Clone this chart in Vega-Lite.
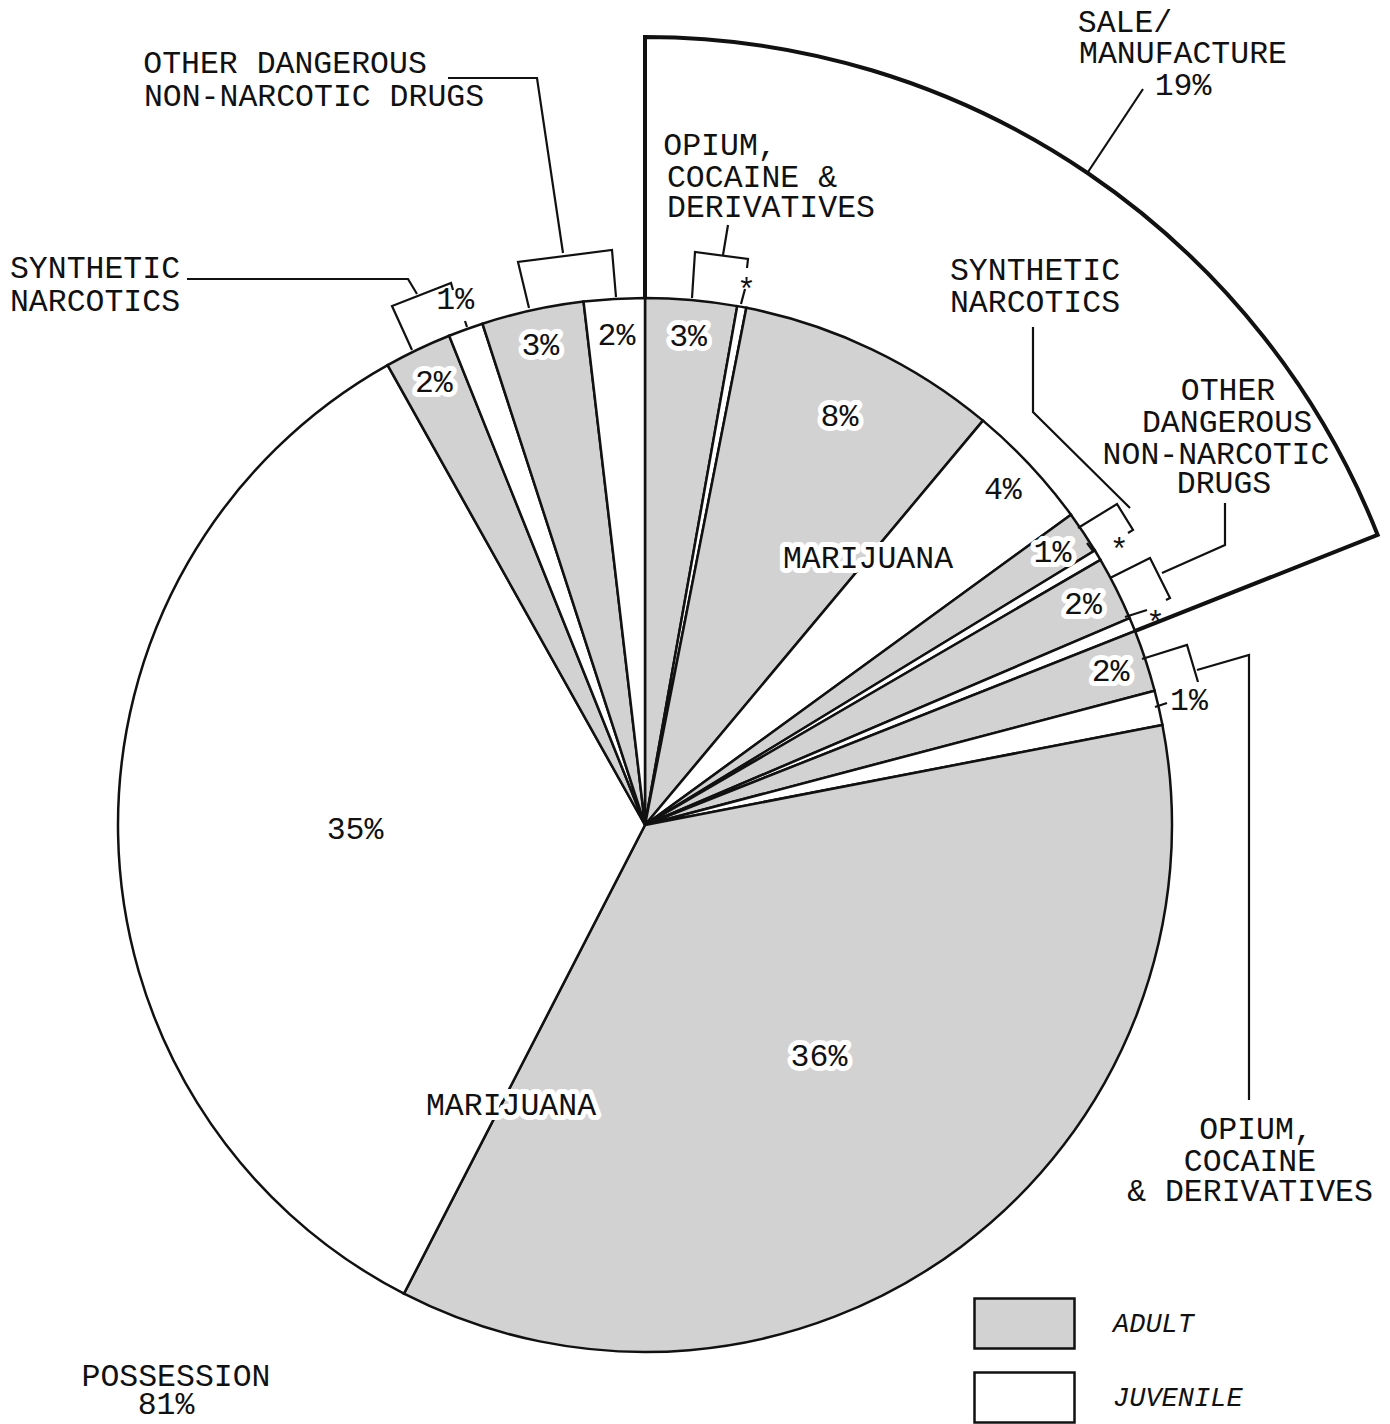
{
  "$schema": "https://vega.github.io/schema/vega-lite/v6.json",
  "width": 1390,
  "height": 1424,
  "autosize": {"type": "none"},
  "padding": 0,
  "background": "white",
  "config": {
    "view": {"stroke": null},
    "text": {"font": "Liberation Mono", "fontSize": 31.5, "color": "#111"}
  },
  "datasets": {
    "groups": [
      {"idx": 1, "group": "SALE/MANUFACTURE", "value": 19},
      {"idx": 2, "group": "POSSESSION", "value": 81}
    ],
    "slices": [
      {"idx": 1, "group": "SALE/MANUFACTURE", "drug": "Opium, cocaine & derivatives", "type": "Adult", "value": 2.8, "label": "3%"},
      {"idx": 2, "group": "SALE/MANUFACTURE", "drug": "Opium, cocaine & derivatives", "type": "Juvenile", "value": 0.28, "label": "*"},
      {"idx": 3, "group": "SALE/MANUFACTURE", "drug": "Marijuana", "type": "Adult", "value": 8.0, "label": "8%"},
      {"idx": 4, "group": "SALE/MANUFACTURE", "drug": "Marijuana", "type": "Juvenile", "value": 3.9, "label": "4%"},
      {"idx": 5, "group": "SALE/MANUFACTURE", "drug": "Synthetic narcotics", "type": "Adult", "value": 1.3, "label": "1%"},
      {"idx": 6, "group": "SALE/MANUFACTURE", "drug": "Synthetic narcotics", "type": "Juvenile", "value": 0.33, "label": "*"},
      {"idx": 7, "group": "SALE/MANUFACTURE", "drug": "Other dangerous non-narcotic drugs", "type": "Adult", "value": 1.97, "label": "2%"},
      {"idx": 8, "group": "SALE/MANUFACTURE", "drug": "Other dangerous non-narcotic drugs", "type": "Juvenile", "value": 0.42, "label": "*"},
      {"idx": 9, "group": "POSSESSION", "drug": "Opium, cocaine & derivatives", "type": "Adult", "value": 1.9, "label": "2%"},
      {"idx": 10, "group": "POSSESSION", "drug": "Opium, cocaine & derivatives", "type": "Juvenile", "value": 1.06, "label": "1%"},
      {"idx": 11, "group": "POSSESSION", "drug": "Marijuana", "type": "Adult", "value": 35.6, "label": "36%"},
      {"idx": 12, "group": "POSSESSION", "drug": "Marijuana", "type": "Juvenile", "value": 34.32, "label": "35%"},
      {"idx": 13, "group": "POSSESSION", "drug": "Synthetic narcotics", "type": "Adult", "value": 2.06, "label": "2%"},
      {"idx": 14, "group": "POSSESSION", "drug": "Synthetic narcotics", "type": "Juvenile", "value": 1.07, "label": "1%"},
      {"idx": 15, "group": "POSSESSION", "drug": "Other dangerous non-narcotic drugs", "type": "Adult", "value": 3.13, "label": "3%"},
      {"idx": 16, "group": "POSSESSION", "drug": "Other dangerous non-narcotic drugs", "type": "Juvenile", "value": 1.86, "label": "2%"}
    ],
    "leaders": [
      {"id": "L1", "ord": 1, "x": -197, "y": 747}, {"id": "L1", "ord": 2, "x": -108, "y": 747}, {"id": "L1", "ord": 3, "x": -82, "y": 572},
      {"id": "B1", "ord": 1, "x": -116, "y": 517}, {"id": "B1", "ord": 2, "x": -127, "y": 563}, {"id": "B1", "ord": 3, "x": -33, "y": 575}, {"id": "B1", "ord": 4, "x": -29, "y": 528},
      {"id": "L2", "ord": 1, "x": -458, "y": 546}, {"id": "L2", "ord": 2, "x": -237, "y": 546}, {"id": "L2", "ord": 3, "x": -228, "y": 531},
      {"id": "B2", "ord": 1, "x": -233, "y": 475}, {"id": "B2", "ord": 2, "x": -253, "y": 519}, {"id": "B2", "ord": 3, "x": -194, "y": 542}, {"id": "B2", "ord": 4, "x": -192, "y": 535},
      {"id": "T2", "ord": 1, "x": -180, "y": 504}, {"id": "T2", "ord": 2, "x": -178, "y": 498},
      {"id": "L3", "ord": 1, "x": 83, "y": 600}, {"id": "L3", "ord": 2, "x": 78, "y": 570},
      {"id": "B3", "ord": 1, "x": 47, "y": 527}, {"id": "B3", "ord": 2, "x": 50, "y": 573}, {"id": "B3", "ord": 3, "x": 103, "y": 566}, {"id": "B3", "ord": 4, "x": 102, "y": 557},
      {"id": "T3", "ord": 1, "x": 100, "y": 536}, {"id": "T3", "ord": 2, "x": 96, "y": 521},
      {"id": "L4", "ord": 1, "x": 498, "y": 736}, {"id": "L4", "ord": 2, "x": 443, "y": 653},
      {"id": "L5", "ord": 1, "x": 388, "y": 498}, {"id": "L5", "ord": 2, "x": 388, "y": 413}, {"id": "L5", "ord": 3, "x": 485, "y": 317},
      {"id": "B5", "ord": 1, "x": 433, "y": 297}, {"id": "B5", "ord": 2, "x": 472, "y": 321}, {"id": "B5", "ord": 3, "x": 488, "y": 295}, {"id": "B5", "ord": 4, "x": 483, "y": 292},
      {"id": "T5", "ord": 1, "x": 442, "y": 282}, {"id": "T5", "ord": 2, "x": 448, "y": 274},
      {"id": "L6", "ord": 1, "x": 580, "y": 322}, {"id": "L6", "ord": 2, "x": 580, "y": 280}, {"id": "L6", "ord": 3, "x": 517, "y": 252},
      {"id": "B6", "ord": 1, "x": 465, "y": 247}, {"id": "B6", "ord": 2, "x": 505, "y": 267}, {"id": "B6", "ord": 3, "x": 525, "y": 227}, {"id": "B6", "ord": 4, "x": 521, "y": 225},
      {"id": "T6", "ord": 1, "x": 480, "y": 208}, {"id": "T6", "ord": 2, "x": 502, "y": 215},
      {"id": "B7", "ord": 1, "x": 497, "y": 166}, {"id": "B7", "ord": 2, "x": 542, "y": 180}, {"id": "B7", "ord": 3, "x": 553, "y": 143},
      {"id": "L7", "ord": 1, "x": 552, "y": 155}, {"id": "L7", "ord": 2, "x": 604, "y": 170}, {"id": "L7", "ord": 3, "x": 604, "y": -275},
      {"id": "T7", "ord": 1, "x": 510, "y": 118}, {"id": "T7", "ord": 2, "x": 522, "y": 122}
    ],
    "callouts": [
      {"text": "OTHER DANGEROUS", "x": -360, "y": 752},
      {"text": "NON-NARCOTIC DRUGS", "x": -331, "y": 719},
      {"text": "SYNTHETIC", "x": -550, "y": 547},
      {"text": "NARCOTICS", "x": -550, "y": 514},
      {"text": "OPIUM,", "x": 75, "y": 670},
      {"text": "COCAINE &", "x": 107, "y": 638},
      {"text": "DERIVATIVES", "x": 126, "y": 608},
      {"text": "SALE/", "x": 480, "y": 793},
      {"text": "MANUFACTURE", "x": 538, "y": 762},
      {"text": "19%", "x": 538, "y": 730},
      {"text": "SYNTHETIC", "x": 390, "y": 545},
      {"text": "NARCOTICS", "x": 390, "y": 513},
      {"text": "OTHER", "x": 583, "y": 425},
      {"text": "DANGEROUS", "x": 582, "y": 393},
      {"text": "NON-NARCOTIC", "x": 571, "y": 361},
      {"text": "DRUGS", "x": 579, "y": 332},
      {"text": "OPIUM,", "x": 611, "y": -314},
      {"text": "COCAINE", "x": 605, "y": -346},
      {"text": "& DERIVATIVES", "x": 605, "y": -376},
      {"text": "POSSESSION", "x": -469, "y": -561},
      {"text": "81%", "x": -479, "y": -589}
    ],
    "inner": [
      {"text": "MARIJUANA", "x": 223, "y": 257},
      {"text": "MARIJUANA", "x": -134, "y": -290}
    ]
  },
  "layer": [
    {
      "data": {"name": "groups"},
      "mark": {"type": "arc", "outerRadius": 788, "fill": "white", "stroke": "#111", "strokeWidth": 4},
      "encoding": {
        "theta": {"field": "value", "type": "quantitative", "stack": true, "scale": {"domain": [0, 100]}},
        "order": {"field": "idx"},
        "x": {"datum": 0, "type": "quantitative", "scale": {"domain": [-645, 745], "nice": false, "zero": false}, "axis": null},
        "y": {"datum": 0, "type": "quantitative", "scale": {"domain": [-599, 825], "nice": false, "zero": false}, "axis": null},
        "opacity": {"condition": {"test": "datum.group == 'POSSESSION'", "value": 0}, "value": 1}
      }
    },
    {
      "data": {"name": "slices"},
      "mark": {"type": "arc", "outerRadius": 527, "stroke": "#111", "strokeWidth": 2.5},
      "encoding": {
        "theta": {"field": "value", "type": "quantitative", "stack": true, "scale": {"domain": [0, 100]}},
        "order": {"field": "idx"},
        "x": {"datum": 0, "type": "quantitative", "scale": {"domain": [-645, 745], "nice": false, "zero": false}, "axis": null},
        "y": {"datum": 0, "type": "quantitative", "scale": {"domain": [-599, 825], "nice": false, "zero": false}, "axis": null},
        "fill": {
          "field": "type", "type": "nominal",
          "scale": {"domain": ["Adult", "Juvenile"], "range": ["#d2d2d2", "#ffffff"]},
          "legend": {
            "orient": "none", "legendX": 998, "legendY": 1297, "title": null, "padding": 0,
            "symbolType": "M-2,-1H2V1H-2Z", "symbolSize": 2500,
            "symbolStrokeColor": "#111", "symbolStrokeWidth": 2.5,
            "labelFont": "Liberation Mono", "labelFontStyle": "italic", "labelFontSize": 27, "labelColor": "#111",
            "labelOffset": 62, "rowPadding": 13, "labelExpr": "upper(datum.label)"
          }
        }
      }
    },
    {
      "data": {"name": "slices"},
      "encoding": {
        "theta": {"field": "value", "type": "quantitative", "stack": true, "scale": {"domain": [0, 100]}},
        "order": {"field": "idx"},
        "x": {"datum": 0, "type": "quantitative", "scale": {"domain": [-645, 745], "nice": false, "zero": false}, "axis": null},
        "y": {"datum": 0, "type": "quantitative", "scale": {"domain": [-599, 825], "nice": false, "zero": false}, "axis": null}
      },
      "layer": [
        {"mark": {"type": "text", "radius": 490, "align": "center", "baseline": "middle", "fill": "white", "stroke": "white", "strokeWidth": 10, "strokeJoin": "round"},
         "encoding": {"text": {"condition": {"test": "datum.value < 5 && !(datum.type == 'Juvenile' && datum.value < 1.5)", "field": "label"}, "value": ""}}},
        {"mark": {"type": "text", "radius": 490, "align": "center", "baseline": "middle"},
         "encoding": {"text": {"condition": {"test": "datum.value < 5 && !(datum.type == 'Juvenile' && datum.value < 1.5)", "field": "label"}, "value": ""}}},
        {"mark": {"type": "text", "radius": 452, "align": "center", "baseline": "middle", "fill": "white", "stroke": "white", "strokeWidth": 10, "strokeJoin": "round"},
         "encoding": {"text": {"condition": {"test": "datum.value >= 5 && datum.value < 20", "field": "label"}, "value": ""}}},
        {"mark": {"type": "text", "radius": 452, "align": "center", "baseline": "middle"},
         "encoding": {"text": {"condition": {"test": "datum.value >= 5 && datum.value < 20", "field": "label"}, "value": ""}}},
        {"mark": {"type": "text", "radius": 290, "align": "center", "baseline": "middle", "fill": "white", "stroke": "white", "strokeWidth": 10, "strokeJoin": "round"},
         "encoding": {"text": {"condition": {"test": "datum.value >= 20", "field": "label"}, "value": ""}}},
        {"mark": {"type": "text", "radius": 290, "align": "center", "baseline": "middle"},
         "encoding": {"text": {"condition": {"test": "datum.value >= 20", "field": "label"}, "value": ""}}},
        {"mark": {"type": "text", "radius": 558, "align": "center", "baseline": "middle"},
         "encoding": {"text": {"condition": {"test": "datum.type == 'Juvenile' && datum.value < 1.5 && datum.label != '*'", "field": "label"}, "value": ""}}},
        {"mark": {"type": "text", "radius": 552, "align": "center", "baseline": "middle", "dy": 9},
         "encoding": {"text": {"condition": {"test": "datum.label == '*'", "field": "label"}, "value": ""}}}
      ]
    },
    {
      "data": {"name": "leaders"},
      "mark": {"type": "line", "color": "#111", "strokeWidth": 2.2},
      "encoding": {
        "x": {"field": "x", "type": "quantitative", "scale": {"domain": [-645, 745], "nice": false, "zero": false}, "axis": null},
        "y": {"field": "y", "type": "quantitative", "scale": {"domain": [-599, 825], "nice": false, "zero": false}, "axis": null},
        "detail": {"field": "id"},
        "order": {"field": "ord"}
      }
    },
    {
      "data": {"name": "callouts"},
      "mark": {"type": "text", "align": "center", "baseline": "alphabetic"},
      "encoding": {
        "x": {"field": "x", "type": "quantitative", "scale": {"domain": [-645, 745], "nice": false, "zero": false}, "axis": null},
        "y": {"field": "y", "type": "quantitative", "scale": {"domain": [-599, 825], "nice": false, "zero": false}, "axis": null},
        "text": {"field": "text"}
      }
    },
    {
      "data": {"name": "inner"},
      "encoding": {
        "x": {"field": "x", "type": "quantitative", "scale": {"domain": [-645, 745], "nice": false, "zero": false}, "axis": null},
        "y": {"field": "y", "type": "quantitative", "scale": {"domain": [-599, 825], "nice": false, "zero": false}, "axis": null},
        "text": {"field": "text"}
      },
      "layer": [
        {"mark": {"type": "text", "align": "center", "baseline": "alphabetic", "fill": "white", "stroke": "white", "strokeWidth": 10, "strokeJoin": "round"}},
        {"mark": {"type": "text", "align": "center", "baseline": "alphabetic"}}
      ]
    }
  ]
}
